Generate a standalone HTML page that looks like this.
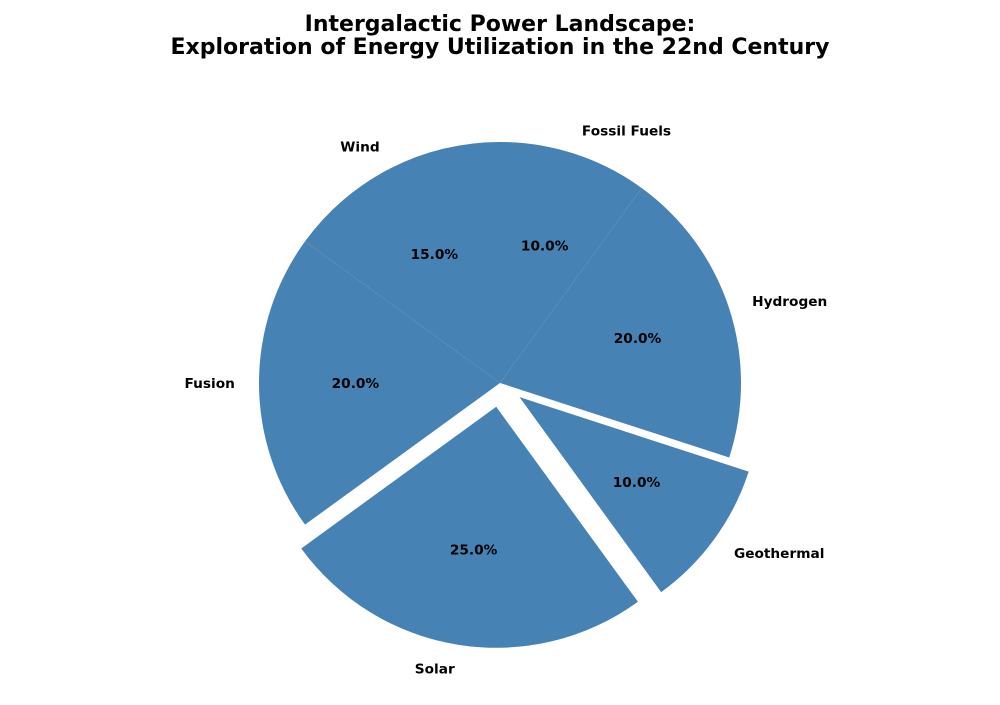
<!DOCTYPE html>
<html><head><meta charset="utf-8"><style>
body{margin:0;background:#fff;}
svg text{font-family:"DejaVu Sans","Liberation Sans",sans-serif;}
</style></head><body>
<svg id="chart" width="1000" height="700" viewBox="0 0 1000 700" xmlns="http://www.w3.org/2000/svg">
<text x="500" y="31" text-anchor="middle" font-size="22" font-weight="bold">Intergalactic Power Landscape:</text>
<text x="500" y="54" text-anchor="middle" font-size="22" font-weight="bold">Exploration of Energy Utilization in the 22nd Century</text>
<g id="slices"></g>
</svg>
<script>
const categories = ["Fossil Fuels","Wind","Fusion","Solar","Geothermal","Hydrogen"];
const values = [10,15,20,25,10,20];
const explode = [0,0,0,0.1,0.1,0];
const startAngle = 54;
const cx=500, cy=383, R=241;
const g=document.getElementById('slices');
const NS="http://www.w3.org/2000/svg";
const total=values.reduce((a,b)=>a+b,0);
let a0=startAngle;
values.forEach((v,i)=>{
  const span=v/total*360, a1=a0+span, mid=(a0+a1)/2*Math.PI/180;
  const ox=cx+explode[i]*R*Math.cos(mid), oy=cy-explode[i]*R*Math.sin(mid);
  const r0=a0*Math.PI/180, r1=a1*Math.PI/180;
  const x0=ox+R*Math.cos(r0), y0=oy-R*Math.sin(r0), x1=ox+R*Math.cos(r1), y1=oy-R*Math.sin(r1);
  const p=document.createElementNS(NS,'path');
  p.setAttribute('d',`M${ox},${oy}L${x0},${y0}A${R},${R} 0 ${span>180?1:0} 0 ${x1},${y1}Z`);
  p.setAttribute('fill','#4682b4');
  
  
  g.appendChild(p);
  const c=Math.cos(mid), s=Math.sin(mid);
  const t=document.createElementNS(NS,'text');
  t.setAttribute('x',ox+1.1*R*c); t.setAttribute('y',oy-1.1*R*s+4.8);
  t.setAttribute('text-anchor',c>0.01?'start':(c<-0.01?'end':'middle'));
  t.setAttribute('font-size','13.7'); t.setAttribute('font-weight','bold');
  t.textContent=categories[i];
  
  
  g.appendChild(t);
  const q=document.createElementNS(NS,'text');
  q.setAttribute('x',ox+0.6*R*c); q.setAttribute('y',oy-0.6*R*s+4.8);
  q.setAttribute('text-anchor','middle');
  q.setAttribute('font-size','13.7'); q.setAttribute('font-weight','bold');
  q.textContent=(v/total*100).toFixed(1)+'%';
  
  
  g.appendChild(q);
  a0=a1;
});
</script>
</body></html>
